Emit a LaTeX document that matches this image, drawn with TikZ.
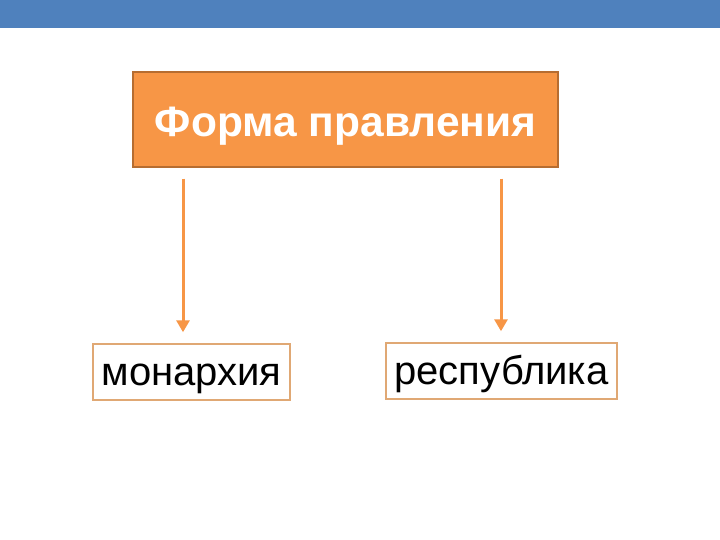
\documentclass[tikz,border=0pt]{standalone}
\usepackage{fontspec}
\setmainfont{Liberation Sans}
\usetikzlibrary{arrows.meta}
\definecolor{barblue}{HTML}{4F81BD}
\definecolor{orangefill}{HTML}{F79646}
\definecolor{orangeline}{HTML}{B66D31}
\definecolor{boxline}{HTML}{E0A874}
\begin{document}
\begin{tikzpicture}[x=1pt,y=-1pt]
				\tikzstyle{every node} = [font=\fontsize{40}{44}\selectfont];
				\tikzstyle{headbox} = [draw=orangeline, line width=1.5pt, fill=orangefill, text=white, font=\fontsize{42.5}{46}\selectfont\bfseries, minimum width=425pt, minimum height=95pt, inner sep=0pt, text height=43pt, text depth=8pt];
				\tikzstyle{formbox} = [draw=boxline, line width=1.5pt, fill=white, minimum height=56pt, inner sep=0pt, text height=34pt, text depth=8pt];
				\tikzstyle{arr} = [draw=orangefill, line width=3pt, -{Triangle[width=13pt,length=12pt]}, shorten <=11pt, shorten >=11pt];
				\fill[white] (0,0) rectangle (720,540);
				\fill[barblue] (0,0) rectangle (720,28);
				\node[headbox] (forma) at (345.5,119.5) {Форма правления};
				\node[formbox, minimum width=197pt] (monarch) at (191.5,372) {монархия};
				\node[formbox, minimum width=231pt] (republic) at (501.5,371) {республика};
				\coordinate (leftx) at (183,0);
				\coordinate (rightx) at (501,0);
				\draw[arr] (forma.south -| leftx) -- (monarch.north -| leftx);
				\draw[arr] (forma.south -| rightx) -- (republic.north -| rightx);
			\end{tikzpicture}
\end{document}
